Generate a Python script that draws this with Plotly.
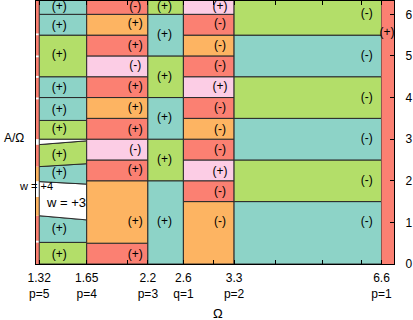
import numpy as np
import plotly.graph_objects as go

# ---------------- data ----------------
omega_range = [1.30, 7.0]
omega_edges = [1.30, 1.32, 1.65, 2.2, 2.6, 3.3, 6.6, 7.0]
omega_ticks = [1.32, 1.65, 2.2, 2.6, 3.3, 6.6]
omega_tick_orders = ["p=5", "p=4", "p=3", "q=1", "p=2", "p=1"]
omega_minor = [2, 3, 4, 5, 6]
a_ticks = [0, 1, 2, 3, 4, 5, 6]
A_TOP = 6.8  # bands continue above the visible range

# region kinds: c=cyan, g=green, s=salmon, o=orange, p=pink, w=white
strip_bounds = [0, 0.52, 0.56, 1.16, 1.61, 1.99, 2.34, 2.87, 3.0, 3.96, 4.0, 4.48, 4.52,
                4.97, 5.01, 5.5, 5.54, A_TOP]
strip_kinds = ["s", "w", "s", "o", "w", "o", "s", "w", "s", "w", "s", "w", "s", "w", "s", "w", "s"]

col1_left = [0, 0.52, 1.16, 1.98, 2.34, 2.87, 3.0, 3.45, 4.0, 4.5, 5.5, 6.0, A_TOP]
col1_right = [0, 0.52, 1.06, 1.92, 2.41, 2.96, 3.0, 3.45, 4.0, 4.5, 5.5, 6.0, A_TOP]
col1_kinds = ["g", "c", "w", "c", "g", "w", "g", "c", "c", "g", "c", "c"]
col1_signs = ["(+)", "(+)", "", "(+)", "(+)", "", "(+)", "(+)", "(+)", "(+)", "(+)", "(+)"]
col1_label_a = [0.22, 0.84, None, 2.19, 2.63, None, 3.25, 3.71, 4.23, 5.03, 5.72, 6.18]

col2_bounds = [0, 0.5, 2.0, 2.5, 3.0, 3.5, 4.0, 4.5, 5.0, 5.5, 6.0, A_TOP]
col2_kinds = ["s", "o", "s", "p", "s", "o", "s", "p", "s", "o", "s"]
col2_signs = ["(+)", "(+)", "(+)", "(-)", "(+)", "(+)", "(+)", "(-)", "(+)", "(+)", "(-)"]
col2_label_a = [0.22, 1.0, 2.25, 2.75, 3.23, 3.75, 4.26, 4.75, 5.24, 5.76, 6.18]

col3_bounds = [0, 2, 3, 4, 5, 6, A_TOP]
col3_kinds = ["c", "g", "c", "g", "c", "g"]
col3_signs = ["(+)", "(+)", "(+)", "(+)", "(+)", "(+)"]
col3_label_a = [1.0, 2.5, 3.5, 4.5, 5.5, 6.18]

col4_bounds = [0, 1.5, 2.0, 2.5, 3.0, 3.5, 4.0, 4.5, 5.0, 5.5, 6.0, A_TOP]
col4_kinds = ["o", "s", "p", "s", "o", "s", "p", "s", "o", "s", "p"]
col4_signs = ["(-)", "(-)", "(+)", "(-)", "(-)", "(-)", "(+)", "(-)", "(-)", "(-)", "(+)"]
col4_label_a = [1.0, 1.74, 2.22, 2.75, 3.23, 3.75, 4.26, 4.75, 5.24, 5.76, 6.18]

col5_bounds = [0, 1.5, 2.5, 3.5, 4.5, 5.5, A_TOP]
col5_kinds = ["c", "g", "c", "g", "c", "g"]
col5_signs = ["(-)", "(-)", "(-)", "(-)", "(-)", "(-)"]
col5_label_a = [1, 2, 3, 4, 5, 6]

col6_bounds = [0, A_TOP]
col6_kinds = ["s"]
col6_signs = ["(+)"]
col6_label_a = [5.56]

# ---------------- styles ----------------
palette = {"c": "#8dd3c7", "g": "#b3de69", "s": "#fb8072", "o": "#fdb462",
           "p": "#fccde5", "w": "#ffffff"}
edge_color = "#2a2a2a"
label_omega = [None, 1.45, 2.074, 2.38, 3.09, 6.16, 6.77]
FONT = "Liberation Sans, Arial, Helvetica, sans-serif"

fig = go.Figure()


def add_bands(x0, x1, left, right, kinds, border=True):
    for i, k in enumerate(kinds):
        fig.add_trace(go.Scatter(
            x=[x0, x1, x1, x0, x0],
            y=[left[i], right[i], right[i + 1], left[i + 1], left[i]],
            mode="lines", fill="toself", fillcolor=palette[k],
            line=dict(color=edge_color if border else palette[k], width=1 if border else 0),
            hoverinfo="skip", showlegend=False))


add_bands(omega_edges[0], omega_edges[1], strip_bounds, strip_bounds, strip_kinds, border=False)
add_bands(omega_edges[1], omega_edges[2], col1_left, col1_right, col1_kinds)
add_bands(omega_edges[2], omega_edges[3], col2_bounds, col2_bounds, col2_kinds)
add_bands(omega_edges[3], omega_edges[4], col3_bounds, col3_bounds, col3_kinds)
add_bands(omega_edges[4], omega_edges[5], col4_bounds, col4_bounds, col4_kinds)
add_bands(omega_edges[5], omega_edges[6], col5_bounds, col5_bounds, col5_kinds)
add_bands(omega_edges[6], omega_edges[7], col6_bounds, col6_bounds, col6_kinds, border=False)

columns = [(1, col1_signs, col1_label_a), (2, col2_signs, col2_label_a),
           (3, col3_signs, col3_label_a), (4, col4_signs, col4_label_a),
           (5, col5_signs, col5_label_a), (6, col6_signs, col6_label_a)]
for ci, signs, ys in columns:
    xs, yv, tv = [], [], []
    for s, yy in zip(signs, ys):
        if s and yy is not None:
            xs.append(label_omega[ci]); yv.append(yy); tv.append(s)
    fig.add_trace(go.Scatter(x=xs, y=yv, text=tv, mode="text",
                             textfont=dict(family=FONT, size=12, color="black"),
                             hoverinfo="skip", showlegend=False))

tick_text = [f"{v}<br>{o}" for v, o in zip(omega_ticks, omega_tick_orders)] + [""] * len(omega_minor)

fig.update_layout(
    width=413, height=320,
    margin=dict(l=36, r=19, t=1, b=56, autoexpand=False),
    plot_bgcolor="white", paper_bgcolor="white",
    font=dict(family=FONT, size=12, color="black"),
    showlegend=False,
)
fig.update_xaxes(type="log", range=[np.log10(omega_range[0]), np.log10(omega_range[1])],
                 tickmode="array", tickvals=omega_ticks + omega_minor, ticktext=tick_text,
                 ticks="inside", ticklen=4, tickcolor="black", tickwidth=1,
                 showline=True, linecolor="black", linewidth=1, mirror="ticks",
                 showgrid=False, zeroline=False, ticklabelstandoff=3, automargin=False,
                 tickfont=dict(family=FONT, size=12, color="black"))
fig.update_yaxes(range=[0, 6.32], side="right", tickmode="array", tickvals=a_ticks,
                 ticks="inside", ticklen=4, tickcolor="black", tickwidth=1,
                 showline=True, linecolor="black", linewidth=1, mirror=True,
                 showgrid=False, zeroline=False, ticklabelstandoff=8, automargin=False,
                 tickfont=dict(family=FONT, size=12, color="black"))

fig.add_annotation(text="A/Ω", xref="paper", yref="y", x=-36 / 358, y=3.02,
                   xanchor="left", yanchor="middle", xshift=2, showarrow=False,
                   font=dict(family=FONT, size=12, color="black"))
fig.add_annotation(text="Ω", xref="paper", yref="paper", x=(218 - 36) / 358, y=0,
                   xanchor="center", yanchor="middle", yshift=-49, showarrow=False,
                   font=dict(family=FONT, size=13, color="black"))
fig.add_annotation(text="w = +3", xref="x", yref="y", x=np.log10(1.352), y=1.49,
                   xanchor="left", yanchor="middle", showarrow=False,
                   font=dict(family=FONT, size=13, color="black"))
fig.add_annotation(text="w = +4", xref="paper", yref="y", x=(17 - 36) / 358, y=1.87,
                   xanchor="left", yanchor="middle", showarrow=False,
                   font=dict(family=FONT, size=11, color="black"))

fig.write_html("out.html", config={"displayModeBar": False},
               post_script="document.body.style.margin='0px';document.body.style.overflow='hidden';")
